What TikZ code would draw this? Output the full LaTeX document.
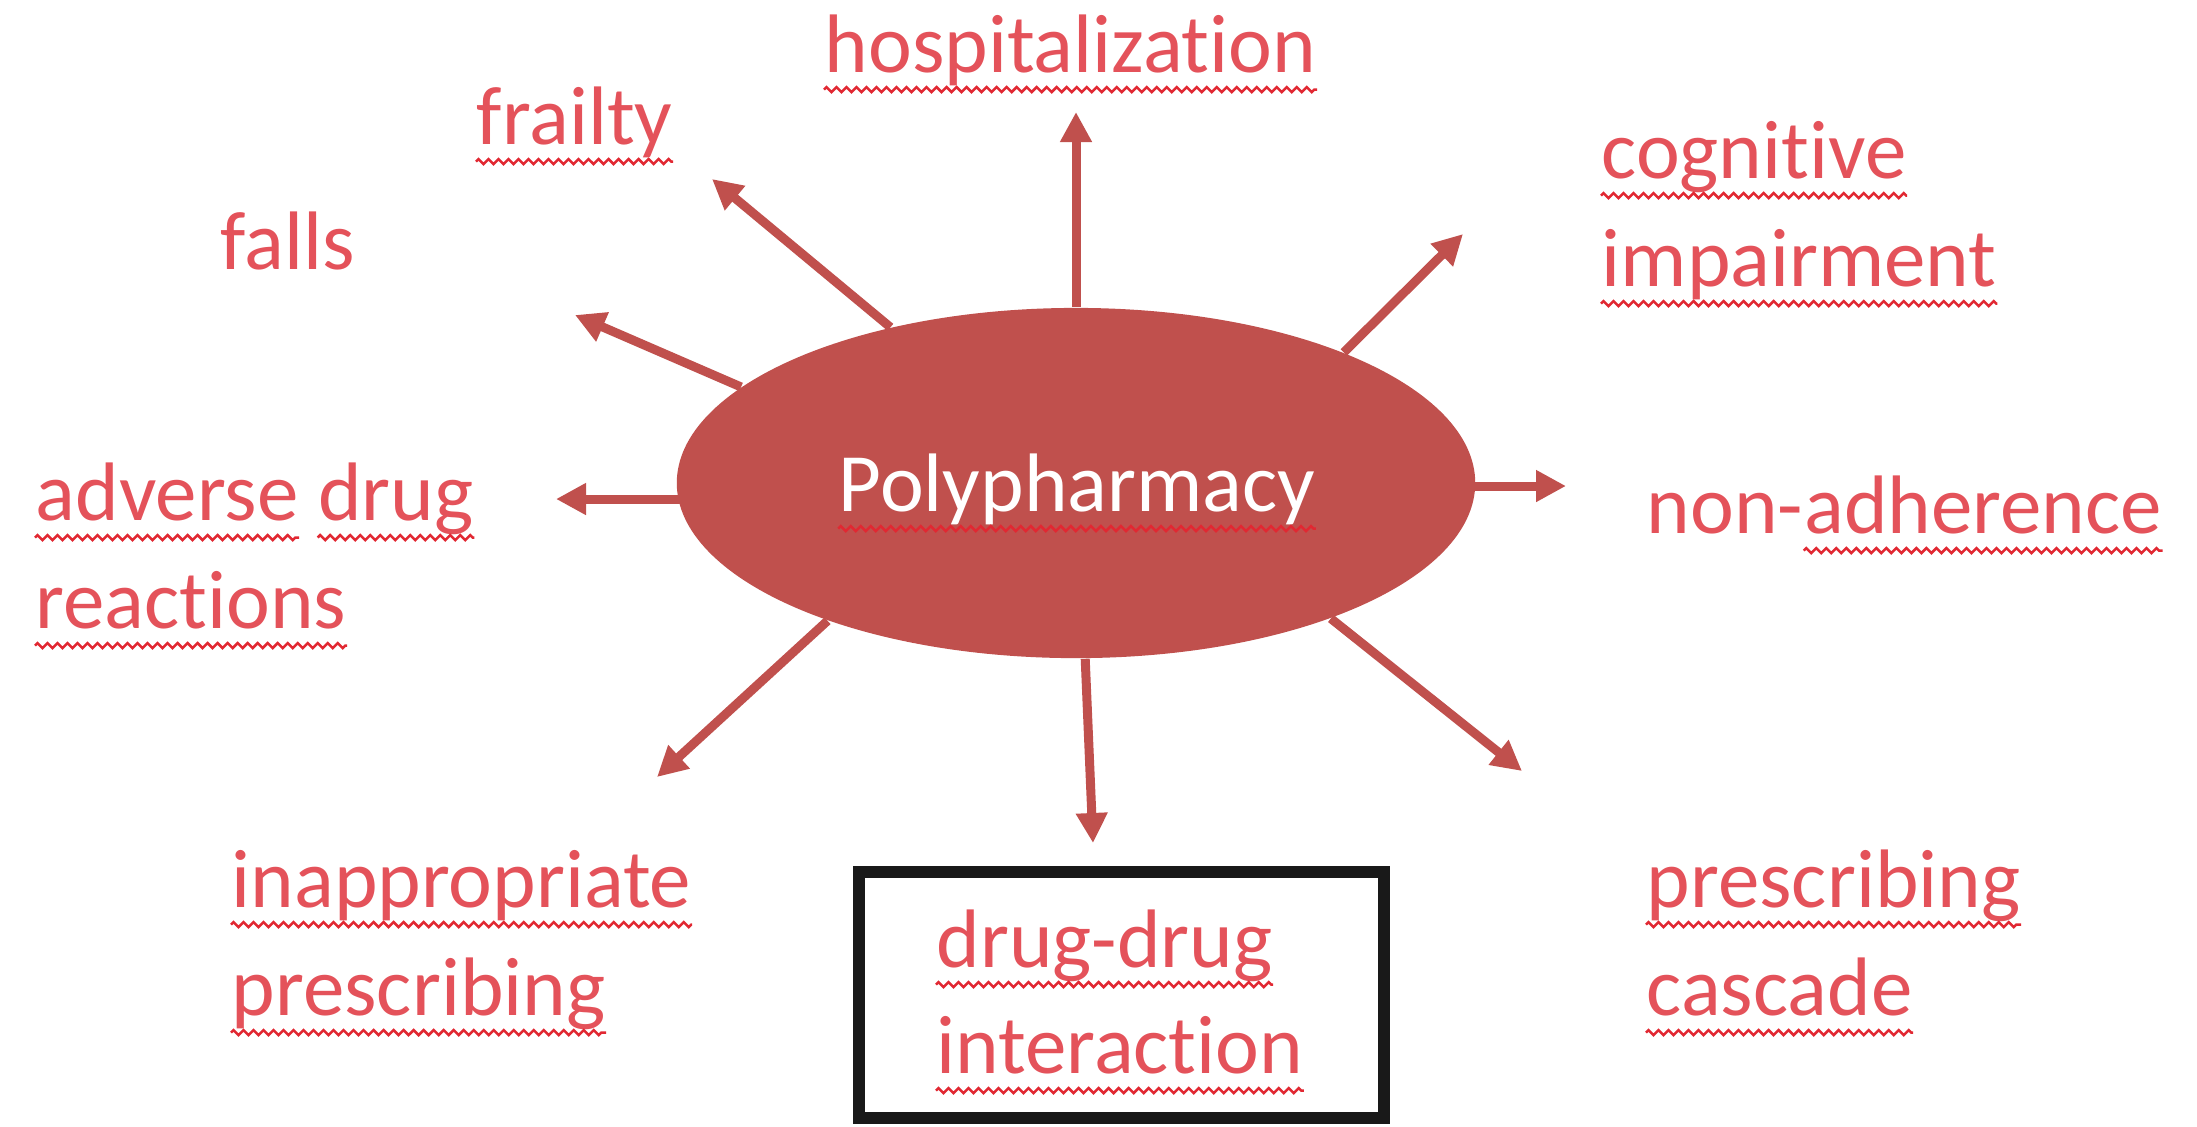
\documentclass[tikz,border=0pt]{standalone}
\usepackage{fontspec}
\setmainfont{Carlito}[Ligatures=CommonOff]
\usetikzlibrary{shapes.geometric,arrows.meta,decorations.pathmorphing,backgrounds}
\definecolor{ellred}{HTML}{C0504D}
\definecolor{txtred}{RGB}{228,82,90}
\definecolor{wavecol}{RGB}{225,40,50}
\newcommand\nolig{\kern0pt\relax}
\tikzset{
  lbl/.style={anchor=base west, inner sep=0pt, text=txtred,
    font=\fontsize{23.6pt}{31pt}\selectfont},
  arr/.style={draw=ellred, line width=0.09cm, -{Triangle[length=0.3cm,width=0.3cm]}},
  wave/.style={draw=wavecol, line width=0.025cm, decorate,
    decoration={zigzag, segment length=0.1cm, amplitude=0.025cm}},
}
\newcommand\wavyul[1]{\draw[wave] ([yshift=-5pt]#1.base west) -- ([yshift=-5pt]#1.base east);}
\begin{document}
\begin{tikzpicture}[x=0.01cm,y=-0.01cm]
\useasboundingbox (0,0) rectangle (2197,1126);
\node[ellipse, fill=ellred, inner sep=0pt, minimum width=7.98cm, minimum height=3.5cm] (poly) at (1076,483) {};
\node[anchor=base, inner sep=0pt, text=white, font=\fontsize{23.6pt}{31pt}\selectfont] (polytext) at (1077,511) {Polypharmacy};
\node[lbl] (hosp) at (824,72) {hospitalizat\nolig ion};
\node[lbl] (frail) at (476,144) {frailty};
\node[lbl] (falls) at (220,269) {falls};
\node[lbl] (cog1) at (1601,178) {cognit\nolig ive};
\node[lbl] (cog2) at (1601,286) {impairment};
\node[lbl] (non) at (1646,533) {non-};
\node[lbl] (adh) at (non.base east) {adherence};
\node[lbl] (adv) at (35,520) {adverse};
\node[lbl] (drug) at ([xshift=5.3pt]adv.base east) {drug};
\node[lbl] (react) at (35,628) {reactions};
\node[lbl] (inapp1) at (231,907) {inappropriate};
\node[lbl] (inapp2) at (231,1015) {prescribing};
\node[lbl] (ddi1) at (936,967) {drug-drug};
\node[lbl] (ddi2) at (936,1073) {interact\nolig ion};
\node[lbl] (casc1) at (1646,907) {prescribing};
\node[lbl] (casc2) at (1646,1015) {cascade};
\foreach \n in {polytext,hosp,frail,cog1,cog2,adh,adv,drug,react,inapp1,inapp2,ddi1,ddi2,casc1,casc2} {\wavyul{\n}}
\node[draw=black!90, line width=0.12cm, inner sep=0pt, minimum width=5.25cm, minimum height=2.46cm] (box) at (1121.5,995) {};
\coordinate (t1) at (1076,112);
\coordinate (t2) at (712,179);
\coordinate (t3) at (575,315);
\coordinate (t4) at (556,499);
\coordinate (t5) at (657,777);
\coordinate (t6) at (1093,843);
\coordinate (t7) at (1522,771);
\coordinate (t8) at (1566,486);
\coordinate (t9) at (1463,234);
\begin{scope}[on background layer]
\draw[arr] (poly.90) -- (t1);
\draw[arr] (poly.140.2) -- (t2);
\draw[arr] (poly.164.2) -- (t3);
\draw[arr] ([xshift=0.1cm]poly.west |- t4) -- (t4);
\draw[arr] (poly.209.1) -- (t5);
\draw[arr] (poly.273.3) -- (t6);
\draw[arr] (poly.332.3) -- (t7);
\draw[arr] ([xshift=-0.1cm]poly.east |- t8) -- (t8);
\draw[arr] (poly.26.2) -- (t9);
\end{scope}
\end{tikzpicture}
\end{document}
